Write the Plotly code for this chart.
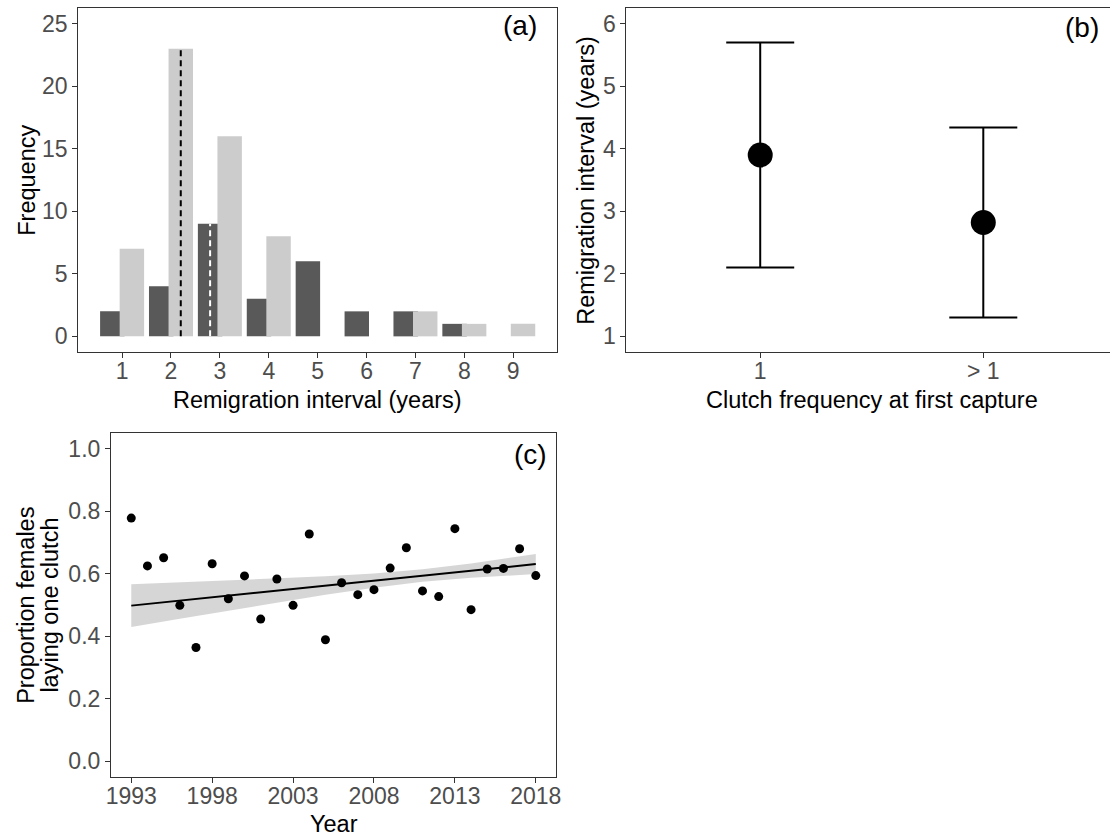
import plotly.graph_objects as go

# ---------------- data ----------------
# (a) remigration interval histogram, two clutch-frequency groups
intervals = [1, 2, 3, 4, 5, 6, 7, 8, 9]
freq_one_clutch = [2, 4, 9, 3, 6, 2, 2, 1, 0]        # dark bars
freq_multi_clutch = [7, 23, 16, 8, 0, 0, 2, 1, 1]    # light bars
median_one_clutch = 3
median_multi_clutch = 2

# (b) mean remigration interval by clutch frequency at first capture
clutch_groups = ["1", "> 1"]
remig_mean = [3.9, 2.82]
remig_low = [2.1, 1.3]
remig_high = [5.7, 4.34]

# (c) proportion of females laying one clutch per year
years = list(range(1993, 2019))
prop_one_clutch = [0.778, 0.625, 0.651, 0.499, 0.364, 0.632, 0.520, 0.593,
                   0.455, 0.583, 0.499, 0.727, 0.389, 0.571, 0.533, 0.549,
                   0.618, 0.683, 0.545, 0.527, 0.744, 0.485, 0.615, 0.617,
                   0.680, 0.594]
fit_years = [1993, 1996, 1999, 2002, 2005, 2008, 2011, 2014, 2016, 2018]
fit_value = [0.498, 0.514, 0.530, 0.546, 0.562, 0.578, 0.594, 0.610, 0.620, 0.631]
fit_upper = [0.566, 0.572, 0.578, 0.584, 0.592, 0.601, 0.614, 0.633, 0.647, 0.663]
fit_lower = [0.430, 0.456, 0.482, 0.508, 0.533, 0.555, 0.574, 0.587, 0.593, 0.599]

# ---------------- styling ----------------
W, H = 1115, 836
FONT = "Liberation Sans"
TICK_COLOR = "#4D4D4D"
LINE_COLOR = "#333333"
DARK = "#595959"
LIGHT = "#CCCCCC"
DODGE = 0.2
BAR_W = 0.5


def px_x(p):
    return p / W


def px_y(p):
    return 1 - p / H


def axis_style(**kw):
    d = dict(showline=True, linecolor=LINE_COLOR, linewidth=1.2, mirror=True,
             ticks="outside", ticklen=5, tickwidth=1.2, tickcolor=LINE_COLOR,
             showgrid=False, zeroline=False,
             tickfont=dict(family=FONT, size=23, color=TICK_COLOR))
    d.update(kw)
    return d


fig = go.Figure()

# ---- (a) histogram ----
fig.add_trace(go.Bar(
    x=[v - DODGE for v in intervals], y=freq_one_clutch, width=BAR_W,
    marker=dict(color=DARK, line=dict(width=0)), xaxis="x", yaxis="y",
    showlegend=False))
fig.add_trace(go.Bar(
    x=[v + DODGE for v in intervals], y=freq_multi_clutch, width=BAR_W,
    marker=dict(color=LIGHT, line=dict(width=0)), xaxis="x", yaxis="y",
    showlegend=False))

h_multi = freq_multi_clutch[intervals.index(median_multi_clutch)]
h_one = freq_one_clutch[intervals.index(median_one_clutch)]
fig.add_trace(go.Scatter(
    x=[median_multi_clutch + DODGE] * 2, y=[0, h_multi], mode="lines",
    line=dict(color="black", width=2, dash="6px,4px"),
    xaxis="x", yaxis="y", showlegend=False))
fig.add_trace(go.Scatter(
    x=[median_one_clutch - DODGE] * 2, y=[0, h_one], mode="lines",
    line=dict(color="white", width=2, dash="6px,4px"),
    xaxis="x", yaxis="y", showlegend=False))

# ---- (b) means with intervals ----
fig.add_trace(go.Scatter(
    x=[1, 2], y=remig_mean, mode="markers",
    marker=dict(color="black", size=25),
    error_y=dict(type="data", symmetric=False,
                 array=[h - m for h, m in zip(remig_high, remig_mean)],
                 arrayminus=[m - l for m, l in zip(remig_mean, remig_low)],
                 color="black", thickness=2, width=34),
    xaxis="x2", yaxis="y2", showlegend=False))

# ---- (c) trend with confidence band ----
fig.add_trace(go.Scatter(
    x=fit_years + fit_years[::-1], y=fit_upper + fit_lower[::-1],
    fill="toself", fillcolor="rgba(153,153,153,0.4)", line=dict(width=0),
    mode="lines", xaxis="x3", yaxis="y3", showlegend=False, hoverinfo="skip"))
fig.add_trace(go.Scatter(
    x=fit_years, y=fit_value, mode="lines",
    line=dict(color="black", width=2), xaxis="x3", yaxis="y3",
    showlegend=False))
fig.add_trace(go.Scatter(
    x=years, y=prop_one_clutch, mode="markers",
    marker=dict(color="black", size=9), xaxis="x3", yaxis="y3",
    showlegend=False))

# ---------------- axes ----------------
top_a, bot_a = 8, 352
top_c, bot_c = 433, 777
X_STANDOFF = -7

fig.update_layout(
    width=W, height=H,
    margin=dict(l=0, r=0, t=0, b=0),
    paper_bgcolor="white", plot_bgcolor="white",
    barmode="overlay",
    xaxis=axis_style(domain=[px_x(74), px_x(557)], range=[0.105, 9.895],
                     tickvals=intervals, anchor="y",
                     ticklabelstandoff=X_STANDOFF),
    yaxis=axis_style(domain=[px_y(bot_a), px_y(top_a)], range=[-1.25, 26.25],
                     tickvals=[0, 5, 10, 15, 20, 25], anchor="x"),
    xaxis2=axis_style(domain=[px_x(627), 1.0], range=[0.4, 2.568],
                      tickvals=[1, 2], ticktext=clutch_groups, anchor="y2",
                      ticklabelstandoff=X_STANDOFF),
    yaxis2=axis_style(domain=[px_y(bot_a), px_y(top_a)], range=[0.75, 6.25],
                      tickvals=[1, 2, 3, 4, 5, 6], anchor="x2", mirror=False),
    xaxis3=axis_style(domain=[px_x(107), px_x(556)], range=[1991.75, 2019.25],
                      tickvals=[1993, 1998, 2003, 2008, 2013, 2018], anchor="y3",
                      ticklabelstandoff=X_STANDOFF),
    yaxis3=axis_style(domain=[px_y(bot_c), px_y(top_c)], range=[-0.05, 1.05],
                      tickvals=[0, 0.2, 0.4, 0.6, 0.8, 1.0], tickformat=".1f",
                      anchor="x3"),
)

# ---------------- text ----------------
title_font = dict(family=FONT, size=23.5, color="black")
panel_font = dict(family=FONT, size=28, color="black")


def label(text, x, y, font, angle=0, xanchor="center"):
    fig.add_annotation(text=text, x=px_x(x), y=px_y(y), xref="paper",
                       yref="paper", showarrow=False, font=font,
                       textangle=angle, xanchor=xanchor, yanchor="middle")


label("Remigration interval (years)", 315.5, 400, title_font)
label("Frequency", 22, 180, title_font, angle=-90)
label("Clutch frequency at first capture", 874.5, 400, title_font)
label("Remigration interval (years)", 586, 180, title_font, angle=-90)
label("Year", 331.5, 824, title_font)
label("Proportion females", 21, 605, title_font, angle=-90)
label("laying one clutch", 45, 605, title_font, angle=-90)

label("(a)", 539, 26, panel_font, xanchor="right")
label("(b)", 1106, 27, panel_font, xanchor="right")
label("(c)", 549, 454, panel_font, xanchor="right")

fig.write_html("out.html")
